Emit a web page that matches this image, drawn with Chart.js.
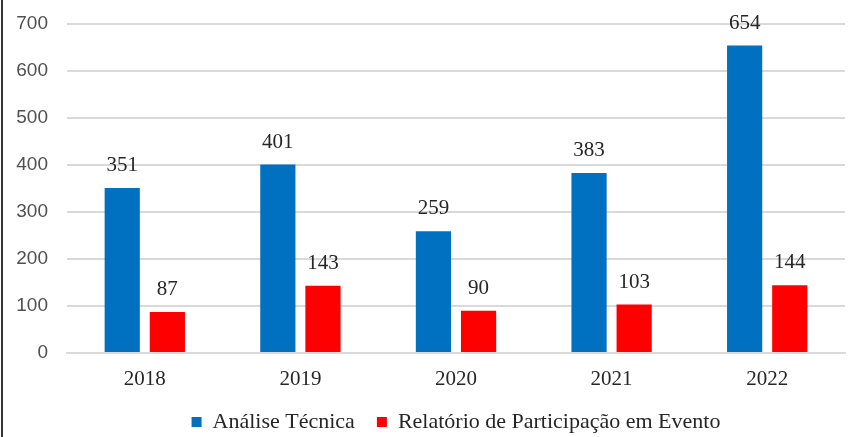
<!DOCTYPE html>
<html>
<head>
<meta charset="utf-8">
<script src="https://cdn.jsdelivr.net/npm/chart.js@4/dist/chart.umd.min.js"></script>
<style>
  html, body { margin: 0; padding: 0; background: #fff; }
  #wrap { width: 855px; height: 437px; position: relative; overflow: hidden; }
  #wrap::before { content: ''; position: absolute; left: 1px; top: 0; bottom: 0; width: 2px; background: #333; }
</style>
</head>
<body>
<div id="wrap"><canvas id="chart" width="855" height="437"></canvas></div>
<script>
// data
const years = ['2018', '2019', '2020', '2021', '2022'];
const analiseTecnica = [351, 401, 259, 383, 654];
const relatorioEvento = [87, 143, 90, 103, 144];
const yTicks = [0, 100, 200, 300, 400, 500, 600, 700];

const serif = 'Liberation Serif';
const sans = 'Liberation Sans';
Chart.defaults.font.family = serif;

// value labels above each bar
const valueLabels = {
  id: 'valueLabels',
  afterDatasetsDraw(chart) {
    const { ctx } = chart;
    ctx.save();
    ctx.font = '21px ' + serif;
    ctx.fillStyle = '#262626';
    ctx.textAlign = 'center';
    ctx.textBaseline = 'alphabetic';
    chart.data.datasets.forEach((ds, i) => {
      chart.getDatasetMeta(i).data.forEach((bar, j) => {
        ctx.fillText(ds.data[j], bar.x, bar.y - 17);
      });
    });
    ctx.restore();
  }
};

new Chart(document.getElementById('chart'), {
  type: 'bar',
  data: {
    labels: years,
    datasets: [
      { label: 'Análise Técnica', data: analiseTecnica, backgroundColor: '#0070C0',
        categoryPercentage: 0.58, barPercentage: 0.78 },
      { label: 'Relatório de Participação em Evento', data: relatorioEvento, backgroundColor: '#FF0000',
        categoryPercentage: 0.58, barPercentage: 0.78 }
    ]
  },
  options: {
    responsive: false,
    animation: false,
    layout: { padding: { top: 24, right: 10, left: 0, bottom: -6 } },
    scales: {
      y: {
        min: 0, max: 700,
        afterBuildTicks: (s) => { s.ticks = yTicks.map(v => ({ value: v })); },
        afterFit: (s) => { s.width = 67; s.paddingTop = 0; s.paddingBottom = 0; },
        grid: { color: '#d9d9d9', lineWidth: 2, drawTicks: false },
        border: { display: false },
        ticks: { padding: 19, color: '#505050', font: { family: sans, size: 19 } }
      },
      x: {
        grid: { display: false },
        border: { color: '#d9d9d9', width: 2 },
        afterFit: (s) => { s.height = 36; },
        ticks: { padding: 6, color: '#262626', font: { family: serif, size: 21 } }
      }
    },
    plugins: {
      legend: {
        position: 'bottom',
        fullSize: false,
        labels: {
          boxWidth: 10, boxHeight: 10, padding: 22, color: '#262626',
          font: { family: serif, size: 22 }
        }
      },
      tooltip: { enabled: false }
    }
  },
  plugins: [valueLabels]
});
</script>
</body>
</html>
